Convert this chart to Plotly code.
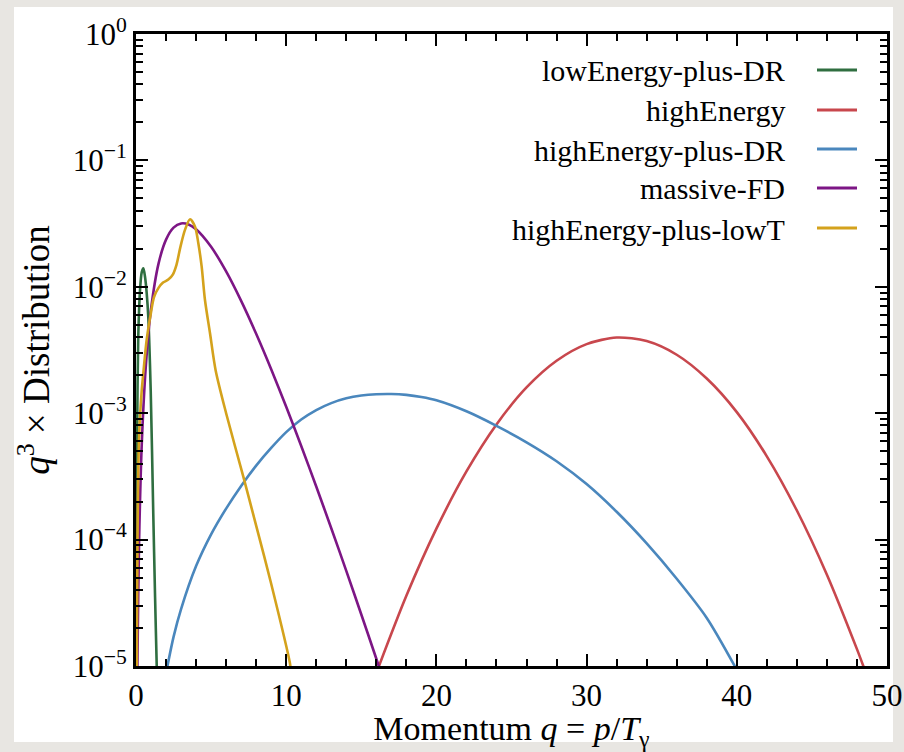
import plotly.graph_objects as go

# ---------------- data ----------------
series_names = ["lowEnergy-plus-DR", "highEnergy", "highEnergy-plus-DR",
                "massive-FD", "highEnergy-plus-lowT"]
series_colors = ["#2f6e40", "#c8474d", "#4a87bd", "#7d1685", "#d4a21c"]

green_q = [0.02, 0.04, 0.08, 0.15, 0.27, 0.38, 0.49, 0.6, 0.71, 0.82, 0.98, 1.15, 1.27, 1.38, 1.40]
green_v = [9.0e-6, 1.0e-4, 8.0e-4, 4.0e-3, 9.5e-3, 1.3e-2, 1.4e-2, 1.2e-2, 9.0e-3, 5.7e-3,
           1.5e-3, 1.6e-4, 3.5e-5, 1.0e-5, 8.5e-6]

red_q = [16.15, 18, 20, 22, 24, 26, 28, 30, 32, 34, 36, 38, 40, 42, 44, 46, 48, 48.45]
red_v = [9.8e-6, 3.59e-5, 1.22e-4, 3.46e-4, 8.15e-4, 1.60e-3, 2.60e-3, 3.52e-3, 3.97e-3,
         3.72e-3, 2.90e-3, 1.88e-3, 1.02e-3, 4.56e-4, 1.70e-4, 5.28e-5, 1.36e-5, 9.8e-6]

blue_q = [2.08, 2.5, 3.0, 4.0, 5.0, 6.0, 7.0, 8.0, 9.0, 10.0, 11.0, 12.0, 13.0, 14.0, 15.0,
          16.0, 17.0, 18.0, 19.0, 20.0, 22.0, 24.0, 26.0, 28.0, 30.0, 32.0, 34.0, 36.0, 38.0,
          39.9]
blue_v = [9.8e-6, 1.70e-5, 2.82e-5, 6.17e-5, 1.10e-4, 1.76e-4, 2.66e-4, 3.85e-4, 5.31e-4,
          7.08e-4, 8.91e-4, 1.059e-3, 1.202e-3, 1.312e-3, 1.380e-3, 1.413e-3, 1.419e-3,
          1.396e-3, 1.343e-3, 1.265e-3, 1.035e-3, 7.94e-4, 5.89e-4, 4.17e-4, 2.75e-4,
          1.66e-4, 9.33e-5, 4.90e-5, 2.40e-5, 9.8e-6]

purple_q = [0.09, 0.1, 0.2, 0.4, 0.7, 1.0, 1.5, 2.0, 2.5, 3.0, 3.5, 4.0, 5.0, 6.0, 7.0, 8.0,
            9.0, 10, 11, 12, 13, 14, 15, 16, 16.2]
purple_v = [8.6e-6, 1.18e-5, 8.92e-5, 6.36e-4, 2.82e-3, 6.66e-3, 1.525e-2, 2.362e-2, 2.937e-2,
            3.171e-2, 3.113e-2, 2.851e-2, 2.073e-2, 1.323e-2, 7.74e-3, 4.25e-3, 2.228e-3,
            1.125e-3, 5.51e-4, 2.63e-4, 1.23e-4, 5.65e-5, 2.557e-5, 1.142e-5, 9.70e-6]

orange_q = [0.05, 0.1, 0.2, 0.38, 0.49, 0.71, 1.0, 1.2, 1.5, 1.8, 2.15, 2.45, 2.7, 2.95, 3.26,
            3.6, 3.93, 4.15, 4.37, 4.59, 4.93, 5.3, 6.0, 7.14, 8.0, 9.0, 10.25, 10.3]
orange_v = [9.0e-6, 1.0e-4, 6.3e-4, 1.51e-3, 2.09e-3, 3.8e-3, 6.3e-3, 8.3e-3, 9.8e-3, 1.08e-2,
            1.14e-2, 1.25e-2, 1.5e-2, 2.05e-2, 2.82e-2, 3.42e-2, 2.99e-2, 2.21e-2, 1.45e-2,
            7.9e-3, 4.27e-3, 2.19e-3, 1.0e-3, 3.16e-4, 1.29e-4, 4.47e-5, 1.05e-5, 9.3e-6]

x_tick_vals = [0, 10, 20, 30, 40, 50]
x_tick_text = ["0", "10", "20", "30", "40", "50"]
y_tick_vals = [1e-5, 1e-4, 1e-3, 1e-2, 1e-1, 1e0]
y_tick_text = ["10<sup>\u22125</sup>", "10<sup>\u22124</sup>", "10<sup>\u22123</sup>",
               "10<sup>\u22122</sup>", "10<sup>\u22121</sup>", "10<sup>0</sup>"]

x_title = "Momentum <i>q</i> = <i>p</i>/<i>T</i><sub>\u03b3</sub>"
y_title = "<i>q</i><sup>3</sup> \u00d7 Distribution"

series_q = [green_q, red_q, blue_q, purple_q, orange_q]
series_v = [green_v, red_v, blue_v, purple_v, orange_v]

FONT = "Liberation Serif"

# ---------------- figure ----------------
fig = go.Figure()
for name, col, q, v in zip(series_names, series_colors, series_q, series_v):
    fig.add_trace(go.Scatter(x=q, y=v, mode="lines", name=name,
                             line=dict(color=col, width=2.6, shape="spline", smoothing=0.8),
                             showlegend=False))

# plot geometry (pixels)
W, H = 904, 752
L, R, T, B = 136, 17, 34, 86
pw, ph = W - L - R, H - T - B

def px_to_paper_x(px):
    return (px - L) / pw

def px_to_paper_y(py):
    return (H - B - py) / ph

# white panel on grey page
shapes = [dict(type="rect", xref="paper", yref="paper",
               x0=px_to_paper_x(14), x1=px_to_paper_x(893),
               y0=px_to_paper_y(742), y1=px_to_paper_y(7),
               fillcolor="white", line=dict(width=0), layer="below")]

# custom legend: text right aligned, line sample on the right
annotations = []
row_y = [70, 110, 149, 188, 228]
for name, col, yy in zip(series_names, series_colors, row_y):
    annotations.append(dict(xref="paper", yref="paper", x=px_to_paper_x(787),
                            y=px_to_paper_y(yy + 1), text=name, showarrow=False,
                            xanchor="right", yanchor="middle",
                            font=dict(family=FONT, size=30, color="black")))
    shapes.append(dict(type="line", xref="paper", yref="paper",
                       x0=px_to_paper_x(817), x1=px_to_paper_x(857),
                       y0=px_to_paper_y(yy), y1=px_to_paper_y(yy),
                       line=dict(color=col, width=3)))

minor_y = [m * 10 ** e for e in range(-5, 0) for m in range(2, 10)]

fig.update_layout(
    width=W, height=H,
    margin=dict(l=L, r=R, t=T, b=B, autoexpand=False),
    paper_bgcolor="#e8e6e2",
    plot_bgcolor="white",
    font=dict(family=FONT, color="black", size=30),
    shapes=shapes,
    annotations=annotations,
    showlegend=False,
)

fig.update_xaxes(
    range=[0, 50], tickmode="array", tickvals=x_tick_vals, ticktext=x_tick_text,
    showgrid=False, zeroline=False,
    showline=True, linecolor="black", linewidth=3, mirror="allticks",
    ticks="inside", ticklen=12, tickwidth=2, tickcolor="black",
    tickfont=dict(family=FONT, size=31),
    minor=dict(ticks="inside", ticklen=7, tickwidth=1.5, tickcolor="black",
               tickmode="linear", tick0=0, dtick=2, showgrid=False),
    title=dict(text=x_title, font=dict(family=FONT, size=34), standoff=6),
)

fig.update_yaxes(
    type="log", range=[-5, 0], tickmode="array", tickvals=y_tick_vals, ticktext=y_tick_text,
    showgrid=False, zeroline=False,
    showline=True, linecolor="black", linewidth=3, mirror="allticks",
    ticks="inside", ticklen=12, tickwidth=2, tickcolor="black",
    tickfont=dict(family=FONT, size=31),
    minor=dict(ticks="inside", ticklen=7, tickwidth=1.5, tickcolor="black",
               tickmode="array", tickvals=minor_y, showgrid=False),
    title=dict(text=y_title, font=dict(family=FONT, size=37), standoff=12),
)

fig.write_html("out.html")
